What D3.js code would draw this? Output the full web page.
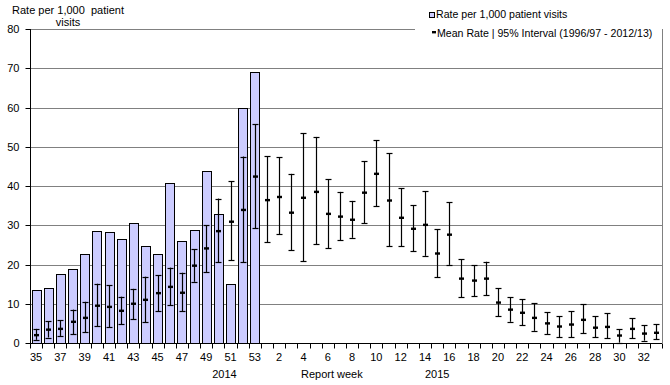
<!DOCTYPE html>
<html><head><meta charset="utf-8">
<script src="https://cdn.jsdelivr.net/npm/d3@7/dist/d3.min.js"></script>
<style>
html,body{margin:0;padding:0;background:#fff;}
svg{display:block;font-family:"Liberation Sans",Arial,sans-serif;}
</style></head>
<body>
<svg id="chart" width="670" height="385"></svg>
<script>
const weeks = [35,36,37,38,39,40,41,42,43,44,45,46,47,48,49,50,51,52,53,
  1,2,3,4,5,6,7,8,9,10,11,12,13,14,15,16,17,18,19,20,21,22,23,24,25,26,27,28,29,30,31,32,33];
const rate = [13.5,14.0,17.6,18.9,22.6,28.5,28.2,26.4,30.7,24.6,22.8,40.7,25.9,28.7,43.7,32.8,15.0,60.0,69.0];
const meanRate = [2.0,3.4,3.6,5.4,6.4,9.5,9.2,8.2,10.0,11.0,12.7,14.3,12.8,19.7,24.1,28.5,30.9,33.9,42.4,
  36.4,37.2,33.2,37.0,38.5,32.9,32.2,31.4,38.3,43.1,36.3,31.9,29.1,30.1,22.8,27.6,16.4,15.9,16.4,10.3,8.5,7.7,6.4,5.0,4.2,4.7,5.9,3.9,4.1,1.9,3.6,2.4,2.6];
const lowCI = [0.8,1.4,1.8,2.2,2.8,4.3,4.0,4.8,6.0,5.3,8.1,9.6,8.1,15.6,18.1,20.6,21.1,20.6,29.2,
  25.7,27.7,23.7,20.8,25.1,24.1,26.2,26.8,30.5,34.8,24.6,24.6,23.4,22.2,16.8,19.9,11.7,11.9,12.2,6.8,5.4,4.5,3.1,2.3,1.5,1.5,2.5,1.5,1.2,0.1,1.2,0.6,0.9];
const highCI = [3.6,5.5,5.8,8.5,10.5,15.1,14.7,11.8,13.8,16.9,17.2,19.2,17.9,23.9,30.0,36.8,41.2,47.5,55.7,
  47.6,47.3,43.1,53.4,52.5,41.7,38.5,36.2,46.3,51.6,48.3,39.4,35.1,38.6,29.0,35.8,21.3,19.8,20.7,13.9,11.6,11.1,10.1,7.8,6.8,8.1,9.9,6.8,7.6,3.5,6.3,4.5,4.8];
const yTicks = [0,10,20,30,40,50,60,70,80];
const legendLabels = ["Rate per 1,000 patient visits","Mean Rate | 95% Interval (1996/97 - 2012/13)"];
const yTitle = ["Rate per 1,000\u00a0\u00a0patient","visits"];
const yearLabels = [{text:"2014", at:16, off:0},{text:"2015", at:33, off:0.5}];
const xTitle = "Report week";

const keys = weeks.map((w,i)=>i);
const L=30, R=662, T=29, B=343;
const svg = d3.select("#chart");
const x = d3.scaleBand().domain(keys).range([L,R]).paddingInner(0.26).paddingOuter(0.13);
const y = d3.scaleLinear().domain([0,80]).range([B,T]);
const step = x.step();

// gridlines
svg.append("g").selectAll("line").data(yTicks.filter(d=>d>0)).join("line")
  .attr("x1",L).attr("x2",R).attr("y1",d=>Math.round(y(d))+0.5).attr("y2",d=>Math.round(y(d))+0.5)
  .attr("stroke","#808080").attr("stroke-width",1);

// bars
svg.append("g").selectAll("rect").data(rate).join("rect")
  .attr("x",(d,i)=>Math.round(x(i))+0.5).attr("width",Math.round(x.bandwidth()))
  .attr("y",d=>Math.round(y(d))+0.5).attr("height",d=>B-Math.round(y(d)))
  .attr("fill","#CCCCFF").attr("stroke","#000").attr("stroke-width",1);

// error bars
const eb = svg.append("g").selectAll("g").data(keys).join("g")
  .attr("transform",i=>`translate(${Math.round(x(i)+x.bandwidth()/2)+0.5},0)`);
eb.append("line").attr("y1",i=>y(highCI[i])).attr("y2",i=>y(lowCI[i])).attr("stroke","#000").attr("stroke-width",1.2);
eb.append("line").attr("x1",-3).attr("x2",3).attr("y1",i=>Math.round(y(highCI[i]))+0.5).attr("y2",i=>Math.round(y(highCI[i]))+0.5).attr("stroke","#000").attr("stroke-width",1.2);
eb.append("line").attr("x1",-3).attr("x2",3).attr("y1",i=>Math.round(y(lowCI[i]))+0.5).attr("y2",i=>Math.round(y(lowCI[i]))+0.5).attr("stroke","#000").attr("stroke-width",1.2);
eb.append("rect").attr("x",-2.5).attr("width",5).attr("y",i=>y(meanRate[i])-1.2).attr("height",2.4).attr("fill","#000");

// legend background
svg.append("rect").attr("x",415).attr("y",2).attr("width",R-415).attr("height",38).attr("fill","#fff");

// right border
svg.append("line").attr("x1",R+0.5).attr("x2",R+0.5).attr("y1",T).attr("y2",B).attr("stroke","#808080");

// y axis
const ya = svg.append("g").attr("transform",`translate(${L+0.5},0)`)
  .call(d3.axisLeft(y).tickValues(yTicks).tickSize(5).tickPadding(6).tickSizeOuter(0));
ya.select(".domain").attr("stroke","#000").attr("d",`M0,${T}V${B}`);
ya.selectAll(".tick line").attr("stroke","#000");
ya.selectAll(".tick").attr("transform",d=>`translate(0,${Math.round(y(d))+0.5})`);
ya.selectAll("text").attr("font-size",11).attr("font-family","Liberation Sans, Arial, sans-serif").attr("fill","#000").attr("dy","0.35em");

// x axis
const xa = svg.append("g").attr("transform",`translate(0,${B+0.5})`);
xa.append("line").attr("x1",L).attr("x2",R).attr("stroke","#000");
const bounds = d3.range(weeks.length+1).map(i=>L+i*step);
xa.selectAll("line.tk").data(bounds).join("line").attr("class","tk")
  .attr("x1",d=>Math.round(d)+0.5).attr("x2",d=>Math.round(d)+0.5).attr("y1",0).attr("y2",5).attr("stroke","#000");
xa.selectAll("text").data(keys.filter(i=>i%2===0)).join("text")
  .attr("x",i=>x(i)+x.bandwidth()/2).attr("y",17).attr("text-anchor","middle")
  .attr("font-size",11).attr("fill","#000").text(i=>weeks[i]);

// year and axis title
svg.selectAll("text.yr").data(yearLabels).join("text").attr("class","yr")
  .attr("x",d=>L+(d.at+d.off)*step).attr("y",378).attr("text-anchor","middle")
  .attr("font-size",11).attr("fill","#000").text(d=>d.text);
svg.append("text").attr("x",L+25*step-2).attr("y",378).attr("text-anchor","middle")
  .attr("font-size",11).attr("fill","#000").text(xTitle);

// y title
svg.selectAll("text.yt").data(yTitle).join("text").attr("class","yt")
  .attr("x",68).attr("y",(d,i)=>14+i*12).attr("text-anchor","middle")
  .attr("font-size",11).attr("fill","#000").text(d=>d);

// legend
const lg = svg.append("g");
lg.append("rect").attr("x",429.5).attr("y",12.5).attr("width",5).attr("height",5).attr("fill","#CCCCFF").attr("stroke","#000");
lg.append("rect").attr("x",432).attr("y",31).attr("width",4).attr("height",2.4).attr("fill","#000");
lg.selectAll("text").data(legendLabels).join("text")
  .attr("x",(d,i)=>i===0?436:437).attr("y",(d,i)=>i===0?18:37)
  .attr("font-size",10.6).attr("fill","#000").text(d=>d);
</script>
</body></html>
